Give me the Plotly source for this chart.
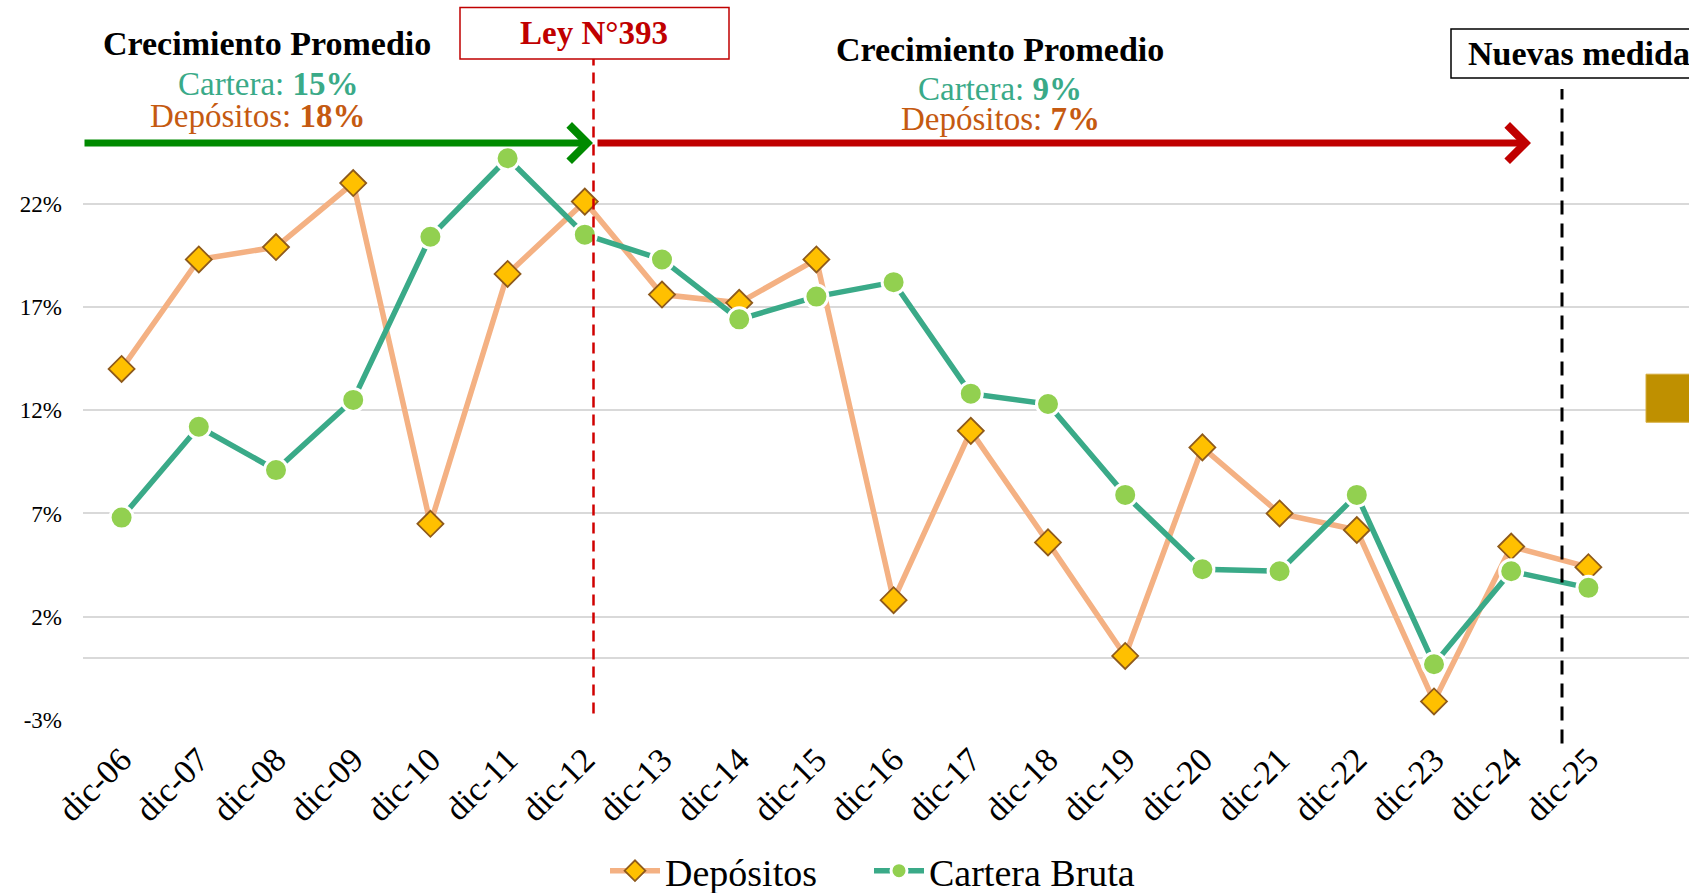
import plotly.graph_objects as go

categories = ["dic-06", "dic-07", "dic-08", "dic-09", "dic-10", "dic-11", "dic-12",
              "dic-13", "dic-14", "dic-15", "dic-16", "dic-17", "dic-18", "dic-19",
              "dic-20", "dic-21", "dic-22", "dic-23", "dic-24", "dic-25"]
depositos = [14.0, 19.3, 19.9, 23.0, 6.5, 18.6, 22.1, 17.6, 17.2, 19.3,
             2.8, 11.0, 5.6, 0.1, 10.2, 7.0, 6.2, -2.1, 5.4, 4.4]
cartera = [6.8, 11.2, 9.1, 12.5, 20.4, 24.2, 20.5, 19.3, 16.4, 17.5,
           18.2, 12.8, 12.3, 7.9, 4.3, 4.2, 7.9, -0.3, 4.2, 3.4]
y_ticks = [-3, 2, 7, 12, 17, 22]
y_ticktext = ["-3%", "2%", "7%", "12%", "17%", "22%"]

W, H = 1689, 893
L, R, T, B = 83, 0, 60, 173.4
PW, PH = W - L - R, H - T - B
FONT = "Liberation Serif"
TEAL = "#3AAA88"
ORANGE = "#C55A11"
DARKRED = "#C00000"


def px(xp):
    return (xp - L) / PW


def py(yp):
    return (H - B - yp) / PH


fig = go.Figure()
fig.add_trace(go.Scatter(
    x=categories, y=depositos, name="Depósitos", mode="lines+markers",
    line=dict(color="#F4B183", width=5.5), legend="legend",
    marker=dict(symbol="diamond", size=20, color="#FFC000",
                line=dict(color="#8E5A1C", width=1.8)),
))
fig.add_trace(go.Scatter(
    x=categories, y=cartera, name="Cartera Bruta", mode="lines+markers",
    line=dict(color="#3AAA88", width=5.5), legend="legend2",
    marker=dict(symbol="circle", size=23, color="#92D050",
                line=dict(color="white", width=3)),
))

annotations = []


def text(x, y, s, size, color, bold=False):
    annotations.append(dict(
        x=px(x), y=py(y), xref="paper", yref="paper", showarrow=False,
        text=("<b>%s</b>" % s) if bold else s,
        font=dict(family=FONT, size=size, color=color),
        xanchor="center", yanchor="middle"))


text(267, 44, "Crecimiento Promedio", 34, "black", bold=True)
text(268, 84, "Cartera: <b>15%</b>", 33, TEAL)
text(257, 116, "Depósitos: <b>18%</b>", 33, ORANGE)
text(1000, 50, "Crecimiento Promedio", 34, "black", bold=True)
text(1000, 89, "Cartera: <b>9%</b>", 33, TEAL)
text(1001, 119, "Depósitos: <b>7%</b>", 33, ORANGE)
text(594, 33, "Ley N°393", 33, DARKRED, bold=True)
annotations.append(dict(
    x=px(1466), y=py(54), xref="paper", yref="paper", showarrow=False,
    text="<b>Nuevas medidas</b>", font=dict(family=FONT, size=34, color="black"),
    xanchor="left", yanchor="middle"))

# arrows
annotations.append(dict(
    x=px(593), y=py(143), xref="paper", yref="paper", text="",
    showarrow=True, ax=-(593 - 83), ay=0, arrowhead=4, arrowsize=1.0,
    arrowwidth=7, arrowcolor="#008A00"))
annotations.append(dict(
    x=px(1531), y=py(143), xref="paper", yref="paper", text="",
    showarrow=True, ax=-(1531 - 596), ay=0, arrowhead=4, arrowsize=1.0,
    arrowwidth=7, arrowcolor=DARKRED))

shapes = [
    dict(type="rect", xref="paper", yref="paper", x0=px(460), x1=px(729),
         y0=py(59), y1=py(7.5), line=dict(color=DARKRED, width=1.5),
         fillcolor="white"),
    dict(type="rect", xref="paper", yref="paper", x0=px(1451), x1=px(1720),
         y0=py(78), y1=py(29), line=dict(color="black", width=1.5),
         fillcolor="white"),
    dict(type="line", xref="paper", yref="paper", x0=px(593.5), x1=px(593.5),
         y0=py(713), y1=py(59), line=dict(color="#D00000", width=2.5, dash="11px,7px")),
    dict(type="line", xref="paper", yref="paper", x0=px(1562), x1=px(1562),
         y0=py(743), y1=py(89), line=dict(color="black", width=3, dash="14px,9px")),
    dict(type="rect", xref="paper", yref="paper", x0=px(1646), x1=px(1710),
         y0=py(422), y1=py(374), line=dict(color="#D6AC3C", width=1),
         fillcolor="#BF9000"),
]

legend_style = dict(orientation="h", xref="container", yref="container",
                    xanchor="left", y=1 - 871 / H, yanchor="middle",
                    font=dict(family=FONT, size=38, color="black"),
                    itemwidth=50, bgcolor="rgba(0,0,0,0)")

fig.update_layout(
    width=W, height=H, margin=dict(l=L, r=R, t=T, b=B, autoexpand=False),
    paper_bgcolor="white", plot_bgcolor="white",
    font=dict(family=FONT, size=24, color="black"),
    annotations=annotations, shapes=shapes,
    showlegend=True,
    legend=dict(x=605 / W, **legend_style),
    legend2=dict(x=869 / W, **legend_style),
    xaxis=dict(range=[-0.5, -0.5 + PW / 77.2], showgrid=False, zeroline=False,
               showline=False, tickangle=-45, ticks="", ticklabelstandoff=12,
               automargin=False, tickfont=dict(family=FONT, size=34)),
    yaxis=dict(range=[-3, -3 + PH / 20.64], tickvals=y_ticks, ticktext=y_ticktext,
               showgrid=True, gridcolor="#D9D9D9", gridwidth=2,
               zeroline=True, zerolinecolor="#D9D9D9", zerolinewidth=2,
               showline=False, ticks="", ticklabelstandoff=20, automargin=False,
               tickfont=dict(family=FONT, size=23)),
)

fig.write_html("out.html", config={"displayModeBar": False},
               post_script="document.body.style.margin='0';"
                           "document.body.style.overflow='hidden';")
